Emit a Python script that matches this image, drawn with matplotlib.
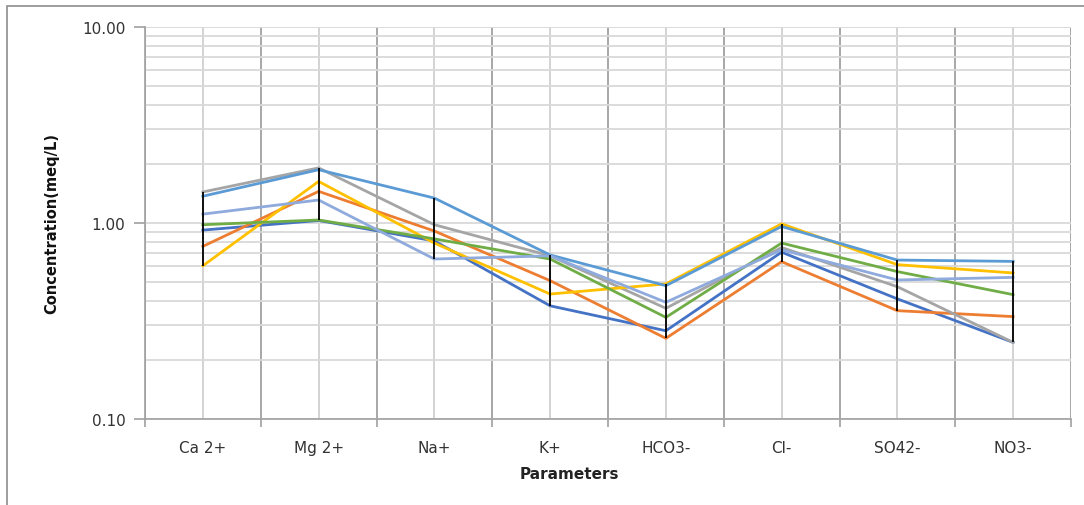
import matplotlib
matplotlib.use("Agg")
import matplotlib.pyplot as plt
from matplotlib.ticker import FixedLocator, FormatStrFormatter, NullFormatter
from matplotlib.patches import Rectangle
import numpy as np

categories = ["Ca 2+", "Mg 2+", "Na+", "K+", "HCO3-", "Cl-", "SO42-", "NO3-"]

s_darkblue = [0.92, 1.03, 0.81, 0.378, 0.282, 0.71, 0.41, 0.246]
s_orange = [0.76, 1.45, 0.91, 0.508, 0.258, 0.635, 0.357, 0.333]
s_gray = [1.44, 1.91, 0.98, 0.68, 0.367, 0.75, 0.473, 0.246]
s_gold = [0.605, 1.63, 0.79, 0.434, 0.489, 0.99, 0.613, 0.556]
s_blue = [1.37, 1.87, 1.34, 0.687, 0.479, 0.96, 0.647, 0.637]
s_green = [0.98, 1.036, 0.83, 0.655, 0.33, 0.79, 0.565, 0.431]
s_lavender = [1.11, 1.31, 0.655, 0.68, 0.394, 0.73, 0.512, 0.528]

series = [s_darkblue, s_orange, s_gray, s_gold, s_blue, s_green, s_lavender]
colors = ["#4472C4", "#ED7D31", "#A5A5A5", "#FFC000", "#5B9BD5", "#70AD47", "#8FAADC"]

W, H = 1084, 506
fig = plt.figure(figsize=(W / 100, H / 100), dpi=100)
ax = fig.add_axes([145 / W, 1 - 420 / H, (1071 - 145) / W, (420 - 28) / H])

# chart border (left and top visible)
fig.patches.append(Rectangle((7 / W, -0.05), 1.2, 1 - 7 / H + 0.05, transform=fig.transFigure,
                             fill=False, edgecolor="#8C8C8C", linewidth=1.2))

x = np.arange(len(categories))
for vals, c in zip(series, colors):
    ax.plot(x, vals, color=c, linewidth=2.0, zorder=3, solid_joinstyle="miter")

arr = np.array(series)
ax.vlines(x, arr.min(axis=0), arr.max(axis=0), color="black", linewidth=1.3, zorder=4)

ax.set_yscale("log")
ax.set_ylim(0.1, 10)
ax.set_xlim(-0.5, len(categories) - 0.5)

ax.yaxis.set_major_locator(FixedLocator([0.1, 1, 10]))
ax.yaxis.set_major_formatter(FormatStrFormatter("%.2f"))
minors = [m * d for d in (0.1, 1) for m in range(2, 10)]
ax.yaxis.set_minor_locator(FixedLocator(minors))
ax.yaxis.set_minor_formatter(NullFormatter())

ax.set_xticks(np.arange(-0.5, len(categories)), minor=False)
ax.set_xticklabels([""] * (len(categories) + 1), minor=False)
ax.set_xticks(x, minor=True)
ax.set_xticklabels(categories, minor=True)

ax.grid(True, axis="y", which="both", color="#D9D9D9", linewidth=1.3, zorder=0)
ax.grid(True, axis="x", which="major", color="#A0A0A0", linewidth=1.3, zorder=0)
ax.grid(True, axis="x", which="minor", color="#D0D0D0", linewidth=1.3, zorder=0)
ax.set_axisbelow(True)

ax.tick_params(axis="x", which="major", length=6, color="#A0A0A0", width=1.2)
ax.tick_params(axis="x", which="minor", length=0, pad=15, labelsize=11, labelcolor="#333333")
ax.tick_params(axis="y", which="major", length=8, color="#A0A0A0", width=1.2,
               labelsize=11, labelcolor="#333333", pad=6)
ax.tick_params(axis="y", which="minor", length=0)

for s in ["top", "right"]:
    ax.spines[s].set_visible(False)
for s in ["left", "bottom"]:
    ax.spines[s].set_color("#A0A0A0")
    ax.spines[s].set_linewidth(1.2)

ax.set_ylabel("Concentration(meq/L)", fontsize=10.5, fontweight="bold", color="#111111")
ax.yaxis.set_label_coords((52 - 145) / 926, 0.5)
ax.set_xlabel("Parameters", fontsize=11, fontweight="bold", color="#222222")
ax.xaxis.set_label_coords((569 - 145) / 926, -(475 - 420) / 392)
ax.xaxis.label.set_va("center")
ax.yaxis.label.set_va("center")

fig.savefig("out.png", dpi=100)
